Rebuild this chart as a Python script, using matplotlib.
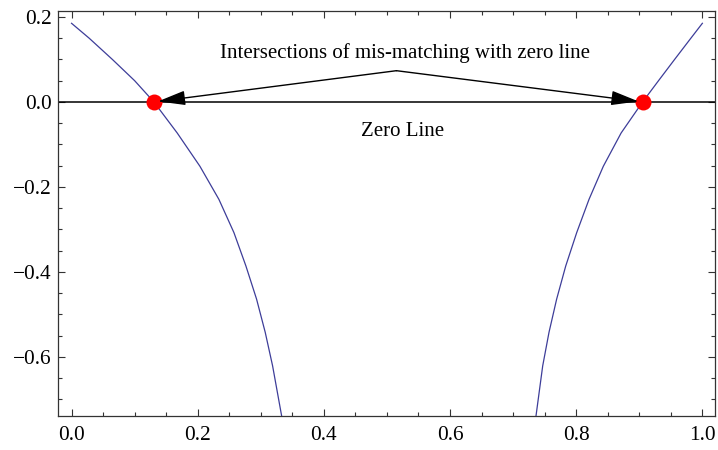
import matplotlib
matplotlib.use("Agg")
import matplotlib.pyplot as plt
from matplotlib.patches import FancyArrowPatch
from matplotlib.ticker import MultipleLocator, FuncFormatter

# ---- data ----
left_x = [0.0, 0.0279, 0.0647, 0.100, 0.1305, 0.1675, 0.2035, 0.2336, 0.2574,
          0.2764, 0.2933, 0.307, 0.3187, 0.333]
left_y = [0.185, 0.15, 0.10, 0.05, 0.0, -0.0731, -0.1514, -0.2293, -0.3075,
          -0.386, -0.464, -0.542, -0.621, -0.7385]
right_x = [0.7363, 0.7469, 0.7569, 0.769, 0.7834, 0.8008, 0.8203, 0.843,
           0.8712, 0.9053, 0.9305, 0.9560, 0.9818, 1.0]
right_y = [-0.7385, -0.621, -0.542, -0.464, -0.386, -0.3075, -0.2293, -0.1514,
           -0.0731, 0.0, 0.05, 0.10, 0.15, 0.185]
root_x = [0.1305, 0.9053]
root_y = [0.0, 0.0]
zero_level = 0.0
xlim = (-0.021, 1.020)
ylim = (-0.739, 0.214)
annot_text = "Intersections of mis-matching with zero line"
annot_pos = (0.529, 0.115)
arrow_tail = (0.515, 0.0735)
zero_text = "Zero Line"
zero_text_pos = (0.525, -0.0706)

plt.rcParams['font.family'] = ['Liberation Serif', 'DejaVu Serif']
plt.rcParams['axes.unicode_minus'] = True

fig = plt.figure(figsize=(7.18, 4.5), dpi=100)
ax = fig.add_axes([0.0812, 0.0756, 0.9146, 0.9000])

curve_color = '#3d3d99'
ax.plot(left_x, left_y, color=curve_color, lw=0.9, solid_joinstyle='round')
ax.plot(right_x, right_y, color=curve_color, lw=0.9, solid_joinstyle='round')
ax.axhline(zero_level, color='black', lw=1.1)
ax.plot(root_x, root_y, 'o', color='#ff0000', ms=11.5, mec='none', zorder=5)

ax.text(annot_pos[0], annot_pos[1], annot_text, ha='center', va='center',
        fontsize=15)
ax.text(zero_text_pos[0], zero_text_pos[1], zero_text, ha='center',
        va='center', fontsize=15)

for rx, ry in zip(root_x, root_y):
    arr = FancyArrowPatch(arrow_tail, (rx, ry),
                          arrowstyle='-|>,head_length=1.7,head_width=0.45',
                          mutation_scale=10, color='black', lw=1.0,
                          shrinkA=0, shrinkB=3, zorder=6)
    ax.add_patch(arr)


def fmt(v, pos):
    s = '%.1f' % abs(v)
    if v < -1e-9:
        return '\u2212' + s
    return s


ax.set_xlim(*xlim)
ax.set_ylim(*ylim)
ax.xaxis.set_major_locator(MultipleLocator(0.2))
ax.xaxis.set_minor_locator(MultipleLocator(0.05))
ax.yaxis.set_major_locator(MultipleLocator(0.2))
ax.yaxis.set_minor_locator(MultipleLocator(0.05))
ax.xaxis.set_major_formatter(FuncFormatter(fmt))
ax.yaxis.set_major_formatter(FuncFormatter(fmt))
ax.tick_params(which='both', direction='in', top=True, right=True,
               colors='#333333', labelcolor='black', labelsize=15.4, width=0.8)
ax.tick_params(which='major', length=5)
ax.tick_params(which='minor', length=3)
ax.tick_params(axis='x', which='major', pad=7)
ax.tick_params(axis='y', which='major', pad=4.5)
for s in ax.spines.values():
    s.set_color('#333333')
    s.set_linewidth(0.9)

fig.savefig('out.png', dpi=100)
